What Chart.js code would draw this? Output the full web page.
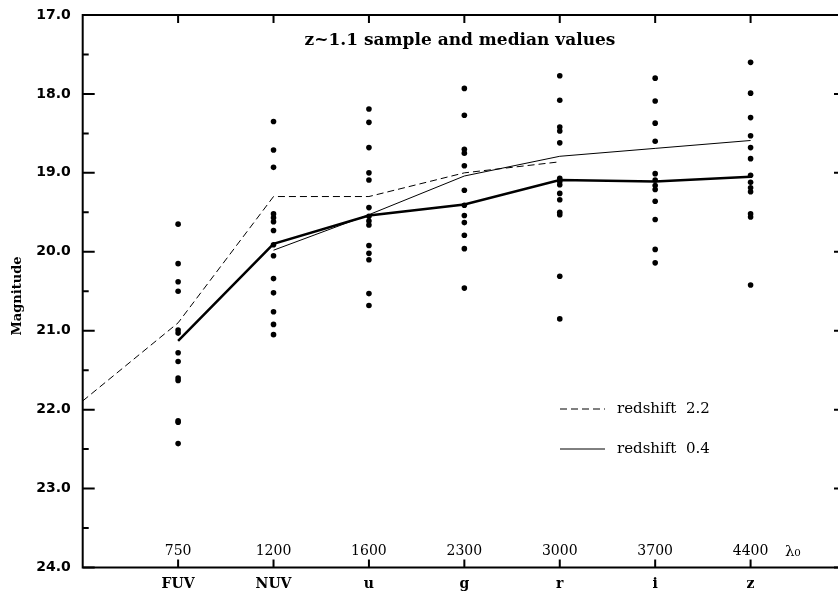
<!DOCTYPE html>
<html>
<head>
<meta charset="utf-8">
<script src="https://cdn.jsdelivr.net/npm/chart.js@4/dist/chart.umd.min.js"></script>
<style>
html,body{margin:0;padding:0;overflow:hidden;background:#fff;}
#wrap{position:absolute;left:0;top:0;width:850px;height:593px;}
</style>
</head>
<body>
<div id="wrap"><canvas id="c"></canvas></div>
<script>
// ---- data ----
const bands = ["FUV", "NUV", "u", "g", "r", "i", "z"];
const wavelengths = ["750", "1200", "1600", "2300", "3000", "3700", "4400"];
const chartTitle = "z~1.1 sample and median values";
const yTitle = "Magnitude";

const fuvMags = [19.65, 20.15, 20.38, 20.50, 20.99, 21.03, 21.28, 21.39, 21.60, 21.63, 22.14, 22.16, 22.43];
const nuvMags = [18.35, 18.71, 18.93, 19.52, 19.57, 19.62, 19.73, 19.91, 20.05, 20.34, 20.52, 20.76, 20.92, 21.05];
const uMags   = [18.19, 18.36, 18.68, 19.00, 19.09, 19.44, 19.55, 19.61, 19.66, 19.92, 20.02, 20.10, 20.53, 20.68];
const gMags   = [17.93, 18.27, 18.70, 18.75, 18.91, 19.22, 19.41, 19.54, 19.63, 19.79, 19.96, 20.46];
const rMags   = [17.77, 18.08, 18.42, 18.47, 18.62, 19.07, 19.11, 19.15, 19.26, 19.34, 19.50, 19.53, 20.31, 20.85];
const iMags   = [17.80, 18.09, 18.37, 18.60, 19.01, 19.09, 19.16, 19.21, 19.36, 19.59, 19.97, 20.14];
const zMags   = [17.60, 17.99, 18.30, 18.53, 18.68, 18.82, 19.03, 19.12, 19.19, 19.24, 19.52, 19.56, 20.42];
const sampleMags = [fuvMags, nuvMags, uMags, gMags, rMags, iMags, zMags];

const medianMags = [21.13, 19.90, 19.54, 19.40, 19.09, 19.11, 19.05];      // FUV..z
const z04Mags    = [19.98, 19.53, 19.04, 18.79, 18.69, 18.59];             // NUV..z
const z22Pos     = [0, 1, 2, 3, 4, 5];                                      // left edge..r
const z22Mags    = [21.89, 20.90, 19.30, 19.30, 19.00, 18.86];
const legendLabels = ["redshift  2.2", "redshift  0.4"];

// ---- build datasets ----
const samplePoints = [];
sampleMags.forEach((arr, i) => arr.forEach(m => samplePoints.push({x: i + 1, y: m})));
const medianPoints = medianMags.map((m, i) => ({x: i + 1, y: m}));
const z04Points = z04Mags.map((m, i) => ({x: i + 2, y: m}));
const z22Points = z22Mags.map((m, i) => ({x: z22Pos[i], y: m}));

const serif = "'DejaVu Serif', serif";
const sans = "'DejaVu Sans', sans-serif";

const decor = {
  id: 'decor',
  afterDraw(chart) {
    const ctx = chart.ctx, a = chart.chartArea;
    const xs = chart.scales.x, ys = chart.scales.y;
    ctx.save();
    ctx.strokeStyle = '#000';
    ctx.fillStyle = '#000';
    ctx.lineWidth = 2;
    ctx.lineCap = 'butt';
    // frame
    ctx.strokeRect(a.left, a.top, a.right - a.left, a.bottom - a.top);
    // y ticks (left & right)
    ctx.beginPath();
    for (let v = 17; v <= 24.001; v += 0.5) {
      const y = ys.getPixelForValue(v);
      const len = Math.abs(v - Math.round(v)) < 1e-6 ? 12 : 6;
      ctx.moveTo(a.left, y); ctx.lineTo(a.left + len, y);
      ctx.moveTo(a.right, y); ctx.lineTo(a.right - len, y);
    }
    // x ticks (top & bottom) at bands
    for (let i = 1; i <= bands.length; i++) {
      const x = xs.getPixelForValue(i);
      ctx.moveTo(x, a.top); ctx.lineTo(x, a.top + 8);
      ctx.moveTo(x, a.bottom); ctx.lineTo(x, a.bottom - 8);
    }
    ctx.stroke();

    // wavelength labels
    ctx.font = "14px " + serif;
    ctx.textAlign = 'center';
    ctx.textBaseline = 'middle';
    wavelengths.forEach((w, i) => ctx.fillText(w, xs.getPixelForValue(i + 1), 551));
    ctx.textAlign = 'left';
    ctx.font = "15px " + serif;
    ctx.fillText("λ₀", 785, 552);

    // title
    ctx.font = "bold 17px " + serif;
    ctx.textAlign = 'center';
    ctx.fillText(chartTitle, 460, 41);

    // legend
    ctx.lineWidth = 1;
    ctx.beginPath();
    ctx.setLineDash([7, 4]);
    ctx.moveTo(560, 409); ctx.lineTo(605, 409);
    ctx.stroke();
    ctx.setLineDash([]);
    ctx.beginPath();
    ctx.moveTo(560, 449); ctx.lineTo(605, 449);
    ctx.stroke();
    ctx.font = "15px " + serif;
    ctx.textAlign = 'left';
    ctx.fillText(legendLabels[0], 617, 409);
    ctx.fillText(legendLabels[1], 617, 449);

    // y title
    ctx.save();
    ctx.translate(18, 296);
    ctx.rotate(-Math.PI / 2);
    ctx.font = "bold 13px " + serif;
    ctx.textAlign = 'center';
    ctx.fillText(yTitle, 0, 0);
    ctx.restore();
    ctx.restore();
  }
};

new Chart(document.getElementById('c'), {
  type: 'scatter',
  data: {
    datasets: [
      {data: samplePoints, pointRadius: 2.8, pointBackgroundColor: '#000', pointBorderWidth: 0, showLine: false},
      {data: medianPoints, showLine: true, borderColor: '#000', borderWidth: 2.5, pointRadius: 0, tension: 0},
      {data: z04Points, showLine: true, borderColor: '#000', borderWidth: 1, pointRadius: 0, tension: 0},
      {data: z22Points, showLine: true, borderColor: '#000', borderWidth: 1, borderDash: [7, 4], pointRadius: 0, tension: 0}
    ]
  },
  options: {
    responsive: true,
    maintainAspectRatio: false,
    devicePixelRatio: 1,
    animation: false,
    events: [],
    layout: {padding: {top: 15, right: 2.5, left: 0, bottom: 0}},
    plugins: {legend: {display: false}, tooltip: {enabled: false}, title: {display: false}},
    scales: {
      x: {
        type: 'linear', min: 0, max: 8,
        grid: {display: false, drawTicks: false},
        border: {display: false},
        afterFit(s) { s.height = 25.5; s.paddingLeft = 0; s.paddingRight = 0; },
        ticks: {
          stepSize: 1, autoSkip: false, maxRotation: 0, padding: 8,
          color: '#000', font: {family: serif, size: 14, weight: 'bold'},
          callback: v => bands[v - 1] || ''
        }
      },
      y: {
        type: 'linear', min: 17, max: 24, reverse: true,
        grid: {display: false, drawTicks: false},
        border: {display: false},
        afterFit(s) { s.width = 82.7; s.paddingTop = 0; s.paddingBottom = 0; },
        ticks: {
          stepSize: 1, padding: 12, color: '#000',
          font: {family: sans, size: 14, weight: 'bold'},
          callback: v => Number(v).toFixed(1)
        }
      }
    }
  },
  plugins: [decor]
});
</script>
</body>
</html>
